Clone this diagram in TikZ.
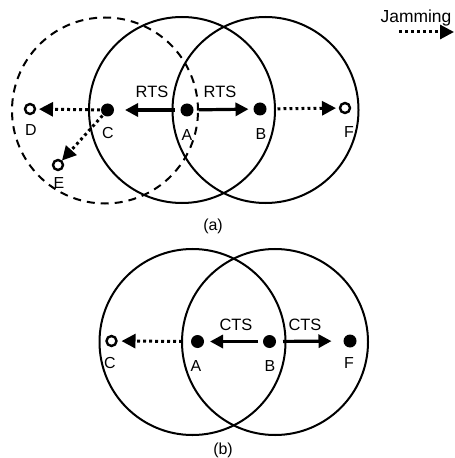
\documentclass[tikz,border=0pt]{standalone}
\usepackage{fontspec}
\setmainfont{Liberation Sans}
\usetikzlibrary{arrows.meta}
\tikzset{
  range/.style={draw=black,line width=2bp,circle,minimum size=#1,inner sep=0pt,outer sep=0pt},
  rangedash/.style={draw=black,line width=2bp,circle,minimum size=#1,inner sep=0pt,outer sep=0pt,dash pattern=on 8bp off 6bp},
  sender/.style={fill=black,circle,minimum size=13bp,inner sep=0pt,outer sep=0pt},
  idle/.style={draw=black,fill=white,line width=2.4bp,circle,minimum size=10bp,inner sep=0pt,outer sep=0pt},
  lab/.style={inner sep=0pt,font=\fontsize{16}{16}\selectfont,text=black},
  msg/.style={inner sep=0pt,font=\fontsize{16.5}{17}\selectfont,text=black},
  control/.style={line width=3.2bp,-{Triangle[length=13bp,width=13bp]}},
  jam/.style={line width=3bp,dash pattern=on 2.8bp off 3.2bp,-{Triangle[length=14bp,width=14bp]}},
}
\begin{document}
\begin{tikzpicture}[x=1bp,y=-1bp]
\useasboundingbox (0,0) rectangle (455,458);
% (a)
\node[range=186bp] (c1) at (182,110) {};
\node[range=186bp] (c2) at (265.5,110) {};
\node[rangedash=186bp] (c3) at (105,110.5) {};
\node[sender] (A) at (187,110) {};
\node[sender] (C) at (107.5,110) {};
\node[sender] (B) at (260,109) {};
\node[idle] (D) at (30,109) {};
\node[idle] (E) at (58,165) {};
\node[idle] (F) at (345,108) {};
\node[lab] (lD) at (31,130) {D};
\node[lab] (lC) at (108,133) {C};
\node[lab] (lA) at (187,135) {A};
\node[lab] (lB) at (261,134) {B};
\node[lab] (lE) at (59,183) {E};
\node[lab] (lF) at (349,132) {F};
\node[msg] (r1) at (152,92) {RTS};
\node[msg] (r2) at (220,92) {RTS};
\node[lab] (capa) at (213,226) {(a)};
\draw[control,shorten <=6bp,shorten >=11bp] (A) -- (C);
\draw[control,shorten <=5bp,shorten >=5bp] (A) -- (B);
\draw[jam,shorten <=1bp,shorten >=4bp] (C) -- (D);
\draw[jam,shorten <=1bp,shorten >=1bp] (C) -- (E);
\draw[jam,shorten <=11bp,shorten >=4bp] (B) -- (F);
% legend
\node[inner sep=0pt,font=\fontsize{17.5}{18}\selectfont,text=black] (jt) at (416,18) {Jamming};
\coordinate (j1) at (399,32);
\coordinate (j2) at (454,32);
\draw[jam] (j1) -- (j2);
% (b)
\node[range=186bp] (c4) at (192.5,342) {};
\node[range=186bp] (c5) at (275,342) {};
\node[idle] (C2) at (111.5,341) {};
\node[sender] (A2) at (197.5,341.5) {};
\node[sender] (B2) at (269.5,341.5) {};
\node[sender] (F2) at (350,341) {};
\node[lab] (lC2) at (110,363) {C};
\node[lab] (lA2) at (196,366) {A};
\node[lab] (lB2) at (270,366) {B};
\node[lab] (lF2) at (349,363) {F};
\node[msg] (c1t) at (236,325) {CTS};
\node[msg] (c2t) at (305,325) {CTS};
\node[lab] (capb) at (223,450) {(b)};
\draw[jam,shorten <=9bp,shorten >=5bp] (A2) -- (C2);
\draw[control,shorten <=5bp,shorten >=6bp] (B2) -- (A2);
\draw[control,shorten <=7bp,shorten >=12bp] (B2) -- (F2);
\end{tikzpicture}
\end{document}
